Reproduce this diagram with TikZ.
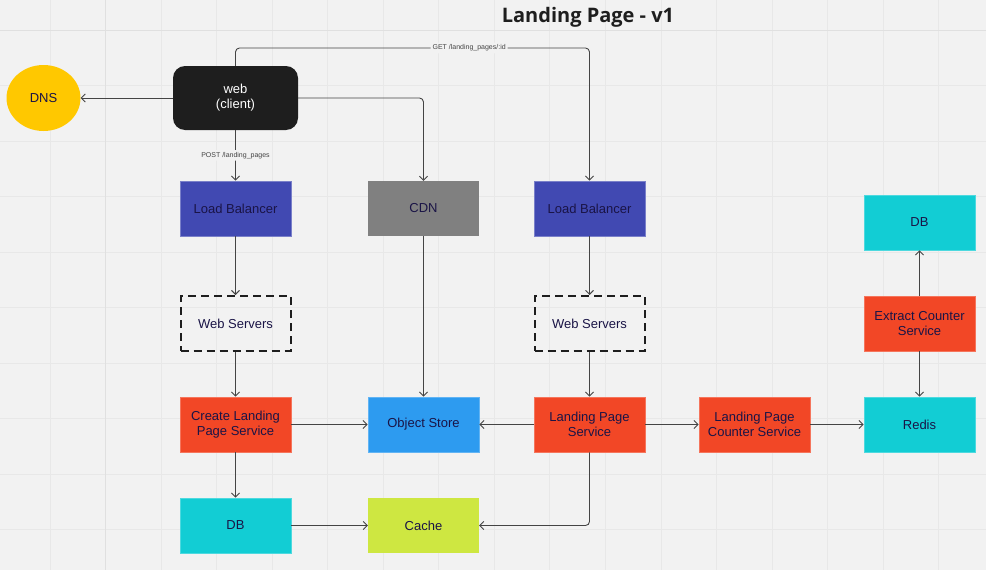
\documentclass[tikz,border=0pt]{standalone}
\usepackage{fontspec}
\setmainfont{Liberation Sans}
\newfontfamily\titlefont{Open Sans}
\usetikzlibrary{shapes.geometric,arrows.meta}
\definecolor{bgc}{HTML}{F2F2F2}
\definecolor{gridc}{HTML}{E8E8E8}
\definecolor{gridd}{HTML}{E0E0E0}
\definecolor{txt}{HTML}{1A1446}
\definecolor{lbc}{HTML}{4149B2}
\definecolor{redc}{HTML}{F24726}
\definecolor{cyanc}{HTML}{12CDD4}
\definecolor{grayc}{HTML}{808080}
\definecolor{bluec}{HTML}{2D9BF0}
\definecolor{limec}{HTML}{CEE741}
\definecolor{yelc}{HTML}{FFC800}
\definecolor{blk}{HTML}{1E1E1E}
\definecolor{linec}{HTML}{444444}
\tikzset{
  box/.style={rectangle, minimum width=111pt, minimum height=55pt, inner sep=0pt,
    align=center, text=txt, font=\fontsize{13}{15}\selectfont},
  lbbox/.style={box, fill=lbc, draw=lbc!70!white, line width=0.8pt},
  redbox/.style={box, fill=redc, draw=redc!75!white, line width=0.8pt},
  cyanbox/.style={box, fill=cyanc, draw=cyanc!75!white, line width=0.8pt},
  dashbox/.style={box, minimum width=110pt, draw=blk, line width=2pt, dash pattern=on 8pt off 5pt},
  arr/.style={draw=linec, line width=0.9pt, -{Straight Barb[length=4pt,width=8pt,line width=0.9pt]}, rounded corners=4pt},
  lbl/.style={fill=bgc, inner sep=2pt, text=linec, font=\fontsize{7}{8}\selectfont},
}
\begin{document}
\begin{tikzpicture}[x=1pt,y=-1pt]
\useasboundingbox (0,0) rectangle (986,570);
\fill[bgc] (0,0) rectangle (986,570);
% grid
\foreach \i in {0,...,17} { \draw[gridc, line width=1pt] ({50+55.55*\i},0) -- ({50+55.55*\i},570); }
\foreach \j in {0,...,9} { \draw[gridc, line width=1pt] (0,{30+55.55*\j}) -- (986,{30+55.55*\j}); }
\draw[gridd, line width=1pt] (105.5,0) -- (105.5,570);
\draw[gridd, line width=1pt] (0,30) -- (986,30);
% title
\node (title) at (588,17) {\titlefont\bfseries\fontsize{20}{24}\selectfont\color{blk}Landing Page - v1};
% nodes
\node[ellipse, fill=yelc, minimum width=74pt, minimum height=66pt, inner sep=0pt, text=txt, font=\fontsize{13}{15}\selectfont] (dns) at (43.5,98) {DNS};
\node[rectangle, rounded corners=12pt, fill=blk, minimum width=125pt, minimum height=64pt, inner sep=0pt, align=center, text=white, font=\fontsize{13}{15}\selectfont] (web) at (235.5,98) {web\\(client)};
\node[lbbox] (lb1) at (235.5,208.5) {Load Balancer};
\node[box, fill=grayc] (cdn) at (423.5,208.5) {CDN};
\node[lbbox] (lb2) at (589.5,208.5) {Load Balancer};
\node[cyanbox] (db2) at (919.5,222.5) {DB};
\node[dashbox] (ws1) at (235.5,323.5) {Web Servers};
\node[dashbox] (ws2) at (589.5,323.5) {Web Servers};
\node[redbox] (ecs) at (919.5,323.5) {Extract Counter\\Service};
\node[redbox] (cls) at (235.5,424.5) {Create Landing\\Page Service};
\node[box, fill=bluec, draw=bluec!75!white, line width=0.8pt] (os) at (423.5,424.5) {Object Store};
\node[redbox] (lps) at (589.5,424.5) {Landing Page\\Service};
\node[redbox] (lpcs) at (754.5,424.5) {Landing Page\\Counter Service};
\node[cyanbox] (redis) at (919.5,424.5) {Redis};
\node[cyanbox] (db1) at (235.5,525.5) {DB};
\node[box, fill=limec] (cache) at (423.5,525.5) {Cache};
% connectors
\coordinate (gtop) at (235.5,48);
\draw[arr] (web.west) -- (dns.east);
\draw[arr] (web.south) -- node[lbl, midway] {POST /landing\_pages} (lb1.north);
\draw[arr] (web.east) -| (cdn.north);
\draw[arr] (web.north) -- (gtop) -| node[lbl, pos=0.33] {GET /landing\_pages/:id} (lb2.north);
\draw[arr] (lb1.south) -- (ws1.north);
\draw[arr] (ws1.south) -- (cls.north);
\draw[arr] (cls.south) -- (db1.north);
\draw[arr] (cls.east) -- (os.west);
\draw[arr] (cdn.south) -- (os.north);
\draw[arr] (lb2.south) -- (ws2.north);
\draw[arr] (ws2.south) -- (lps.north);
\draw[arr] (lps.west) -- (os.east);
\draw[arr] (lps.east) -- (lpcs.west);
\draw[arr] (lpcs.east) -- (redis.west);
\draw[arr] (lps.south) |- (cache.east);
\draw[arr] (db1.east) -- (cache.west);
\draw[arr] (ecs.north) -- (db2.south);
\draw[arr] (ecs.south) -- (redis.north);
\end{tikzpicture}
\end{document}
